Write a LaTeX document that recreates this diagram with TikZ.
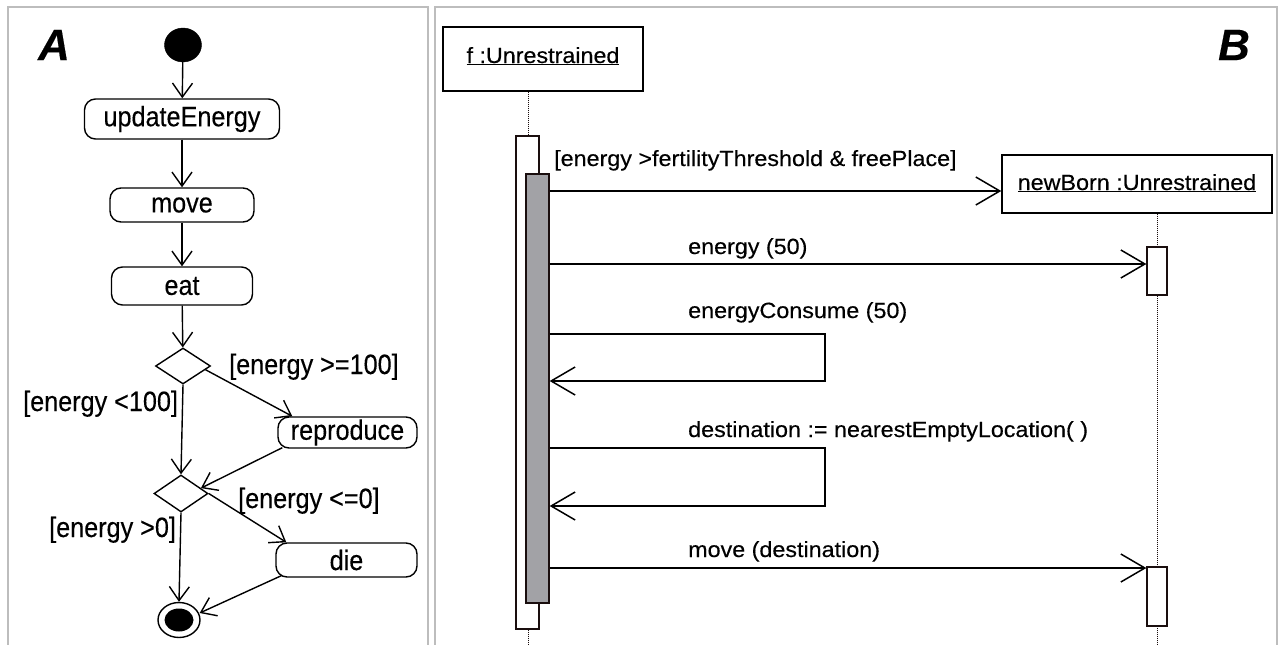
\documentclass[tikz,border=0pt]{standalone}
\usepackage{fontspec}
\usepackage{graphicx}
\setmainfont{Liberation Sans}[FakeBold=0.3]
\usetikzlibrary{arrows.meta,shapes.geometric,calc}
\newcommand{\wa}[1]{\scalebox{0.9}[1]{#1}}
\newcommand{\wt}[1]{\scalebox{1.06}[1]{#1}}
\definecolor{panelgray}{HTML}{BDBDBD}
\definecolor{actgray}{HTML}{A2A2A6}
\definecolor{outl}{HTML}{1A0E0E}
\begin{document}
\begin{tikzpicture}[x=1pt,y=-1pt,
  every node/.style={font=\fontsize{22}{26}\selectfont},
  afont/.style={font=\fontsize{28}{32}\selectfont},
  panel/.style={draw=panelgray, line width=2pt},
  act/.style={draw, afont, line width=1.4pt, rounded corners=11pt, inner sep=0pt},
  dec/.style={draw, diamond, line width=1.4pt, inner sep=0pt},
  flow/.style={line width=1.4pt, -{Straight Barb[length=14pt,width=20pt]}},
  guard/.style={afont, anchor=base west, inner sep=0pt},
  obj/.style={draw, line width=1.4pt, inner sep=0pt, text height=16pt},
  life/.style={draw=outl, line width=0.9pt, dash pattern=on 1pt off 1pt},
  actv/.style={draw=outl, line width=1.3pt, fill=white, inner sep=0pt},
  msg/.style={line width=1.5pt, -{Straight Barb[length=24pt,width=28pt]}},
  mlabel/.style={anchor=base west, inner sep=0pt},
  big/.style={font=\fontsize{44}{48}\selectfont\bfseries\itshape, inner sep=0pt}]
\useasboundingbox (0,0) rectangle (1280,645);
\fill[white] (0,0) rectangle (1280,645);
% panel frames
\draw[panel] (8,645) -- (8,7) -- (428,7) -- (428,645);
\draw[panel] (435,645) -- (435,7) -- (1277,7) -- (1277,645);

% ---------------- Panel A ----------------
\node[big] (labA) at (54,45) {A};
\node[draw, fill=black, ellipse, minimum width=37pt, minimum height=34pt, inner sep=0pt] (start) at (183,45) {};
\node[act, minimum width=195pt, minimum height=40pt] (upd) at (182,119) {\wa{updateEnergy}};
\node[act, minimum width=144pt, minimum height=34pt] (move) at (182,205) {\wa{move}};
\node[act, minimum width=141pt, minimum height=38pt] (eat) at (182,286) {\wa{eat}};
\node[dec, minimum width=55pt, minimum height=36pt] (d1) at (183,366) {};
\node[act, minimum width=139pt, minimum height=31pt] (repr) at (347.5,432.5) {\wa{reproduce}};
\node[dec, minimum width=54pt, minimum height=37pt] (d2) at (181,493.5) {};
\node[act, minimum width=141pt, minimum height=34pt] (die) at (346.5,560) {\wa{die}};
\node[draw, ellipse, line width=1.4pt, minimum width=42pt, minimum height=35pt, inner sep=0pt] (fin) at (179,620) {};
\node[fill=black, ellipse, minimum width=29pt, minimum height=23pt, inner sep=0pt] (finin) at (179,620) {};

\draw[flow] (start) -- (upd);
\draw[flow] (upd) -- (move);
\draw[flow] (move) -- (eat);
\draw[flow] (eat) -- (d1);
\draw[flow] ($(d1.east)!0.2!(d1.south)$) -- ($(repr.north west)+(15,0)$);
\draw[flow] (d1.south) -- (d2.north);
\draw[flow] ($(repr.south west)+(5,-1)$) -- ($(d2.north)!0.72!(d2.east)$);
\draw[flow] (d2.east) -- ($(die.north west)+(11,0)$);
\draw[flow] (d2.south) -- (fin.north);
\draw[flow] ($(die.south west)+(6,-2)$) -- ($(fin.east)+(-1,-7)$);

\node[guard] (g1) at (229,374) {\wa{[energy >=100]}};
\node[guard] (g2) at (23,411) {\wa{[energy <100]}};
\node[guard] (g3) at (238,508) {\wa{[energy <=0]}};
\node[guard] (g4) at (49,537) {\wa{[energy >0]}};

% ---------------- Panel B ----------------
\node[big] (labB) at (1234,45) {B};
\node[obj, minimum width=200pt, minimum height=64pt, text depth=8pt] (fobj) at (543,59) {\wt{\underline{f :Unrestrained}}};
\node[obj, minimum width=270pt, minimum height=58pt, text depth=4pt] (nb) at (1137,184) {\wt{\underline{newBorn :Unrestrained}}};

\coordinate (fend) at (528,645);
\coordinate (nbend) at (1157,645);
\draw[life] (fobj.south -| 528,0) -- (fend);
\draw[life] (nb.south -| 1157,0) -- (nbend);

\node[actv, minimum width=23pt, minimum height=493pt] (fa) at (527.5,382.5) {};
\node[actv, fill=actgray, minimum width=23pt, minimum height=429pt] (fb) at (537.5,388.5) {};
\node[actv, minimum width=20pt, minimum height=48pt] (na1) at (1157,271) {};
\node[actv, minimum width=20pt, minimum height=59pt] (na2) at (1157,596.5) {};

\coordinate (r1) at (825,334);
\coordinate (r2) at (825,381);
\coordinate (r3) at (825,448);
\coordinate (r4) at (825,506);

\draw[msg] (fb.east |- 0,191) -- (nb.west |- 0,191);
\draw[msg] (fb.east |- 0,264) -- (na1.west |- 0,264);
\draw[msg] (fb.east |- r1) -- (r1) -- (r2) -- (fb.east |- r2);
\draw[msg] (fb.east |- r3) -- (r3) -- (r4) -- (fb.east |- r4);
\draw[msg] (fb.east |- 0,568) -- (na2.west |- 0,568);

\node[mlabel] (m1) at (554,166) {\wt{[energy >fertilityThreshold \& freePlace]}};
\node[mlabel] (m2) at (688,254) {\wt{energy (50)}};
\node[mlabel] (m3) at (688,318) {\wt{energyConsume (50)}};
\node[mlabel] (m4) at (688,437) {\wt{destination := nearestEmptyLocation( )}};
\node[mlabel] (m5) at (688,557) {\wt{move (destination)}};
\end{tikzpicture}
\end{document}
